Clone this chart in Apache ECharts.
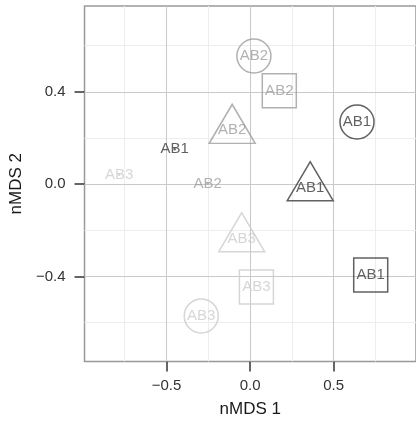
<!DOCTYPE html>
<html>
<head>
<meta charset="utf-8">
<script src="https://cdn.jsdelivr.net/npm/echarts@6/dist/echarts.min.js"></script>
<style>html,body{margin:0;padding:0;background:#fff;}#c{width:416px;height:423px;}</style>
</head>
<body>
<div id="c"></div>
<script>
// Axis ticks and grid
const xTicks = [-0.5, 0.0, 0.5];
const xMinor = [-0.75, -0.25, 0.25, 0.75];
const yTicks = [-0.4, 0.0, 0.4];
const yMinor = [-0.6, -0.2, 0.2, 0.6];

// Points by shape
const circleX = [0.640, 0.023, -0.292];
const circleY = [0.269, 0.555, -0.571];
const circleLab = ['AB1', 'AB2', 'AB3'];

const triX = [0.360, -0.107, -0.050];
const triY = [-0.016, 0.233, -0.237];
const triLab = ['AB1', 'AB2', 'AB3'];

const sqX = [0.722, 0.175, 0.038];
const sqY = [-0.394, 0.404, -0.446];
const sqLab = ['AB1', 'AB2', 'AB3'];

const txtX = [-0.451, -0.254, -0.783];
const txtY = [0.151, 0.003, 0.040];
const txtLab = ['AB1', 'AB2', 'AB3'];

const colorOf = { AB1: '#3a3a3a', AB2: '#9e9e9e', AB3: '#cccccc' };
const FONT = '"Liberation Sans", Arial, Helvetica, sans-serif';

function items(xs, ys, labs) {
  return xs.map((x, i) => ({
    value: [x, ys[i]],
    name: labs[i],
    itemStyle: { color: 'rgba(0,0,0,0)', borderColor: colorOf[labs[i]] },
    label: { color: colorOf[labs[i]] }
  }));
}

function shapeSeries(name, symbol, size, data, offset) {
  return {
    name: name,
    type: 'scatter',
    z: 3,
    symbol: symbol,
    symbolSize: size,
    symbolOffset: offset ? [0, -offset] : [0, 0],
    itemStyle: { borderWidth: 1.5 },
    label: {
      show: true,
      position: 'inside',
      formatter: p => p.name,
      fontSize: 15,
      fontFamily: FONT,
      offset: offset ? [0, offset] : [0, 0]
    },
    emphasis: { disabled: true },
    data: data
  };
}

const gridLine = (key, vals, color) => vals.map(v => ({ [key]: v, lineStyle: { color: color, width: 1, type: 'solid' } }));

const fmt = v => (v < 0 ? '\u2212' : '') + Math.abs(v).toFixed(1);

const option = {
  animation: false,
  grid: { left: 82, top: 6, right: -4, bottom: 59.5, show: true, borderColor: '#999999', borderWidth: 1.5, backgroundColor: '#ffffff' },
  xAxis: {
    type: 'value', min: -0.9906, max: 0.993,
    name: 'nMDS 1', nameLocation: 'middle', nameGap: 48,
    nameTextStyle: { fontSize: 17, color: '#1a1a1a', fontFamily: FONT, verticalAlign: 'middle' },
    axisLine: { show: false, onZero: false },
    axisTick: { show: true, length: 10, customValues: xTicks, lineStyle: { color: '#333333', width: 1.5 } },
    axisLabel: { customValues: xTicks, formatter: fmt, fontSize: 15, color: '#333333', fontFamily: FONT, margin: 17 },
    splitLine: { show: false }
  },
  yAxis: {
    type: 'value', min: -0.7685, max: 0.7716,
    name: 'nMDS 2', nameLocation: 'middle', nameGap: 64, nameRotate: 90,
    nameTextStyle: { fontSize: 17, color: '#1a1a1a', fontFamily: FONT, verticalAlign: 'middle' },
    axisLine: { show: false, onZero: false },
    axisTick: { show: true, length: 10, customValues: yTicks, lineStyle: { color: '#333333', width: 1.5 } },
    axisLabel: { customValues: yTicks, formatter: fmt, fontSize: 15, color: '#333333', fontFamily: FONT, margin: 19 },
    splitLine: { show: false }
  },
  series: [
    {
      type: 'scatter', data: [], z: 1, silent: true,
      markLine: {
        z: 1, silent: true, symbol: 'none', animation: false,
        label: { show: false },
        data: [].concat(
          gridLine('xAxis', xMinor, '#ededed'),
          gridLine('yAxis', yMinor, '#ededed'),
          gridLine('xAxis', xTicks, '#c9c9c9'),
          gridLine('yAxis', yTicks, '#c9c9c9')
        )
      }
    },
    shapeSeries('circle', 'circle', 34, items(circleX, circleY, circleLab)),
    shapeSeries('triangle', 'triangle', [46, 39], items(triX, triY, triLab), 6.5),
    shapeSeries('square', 'rect', 34, items(sqX, sqY, sqLab)),
    shapeSeries('text', 'circle', 1, items(txtX, txtY, txtLab))
  ]
};

echarts.init(document.getElementById('c'), null, { renderer: 'canvas' }).setOption(option);
</script>
</body>
</html>
